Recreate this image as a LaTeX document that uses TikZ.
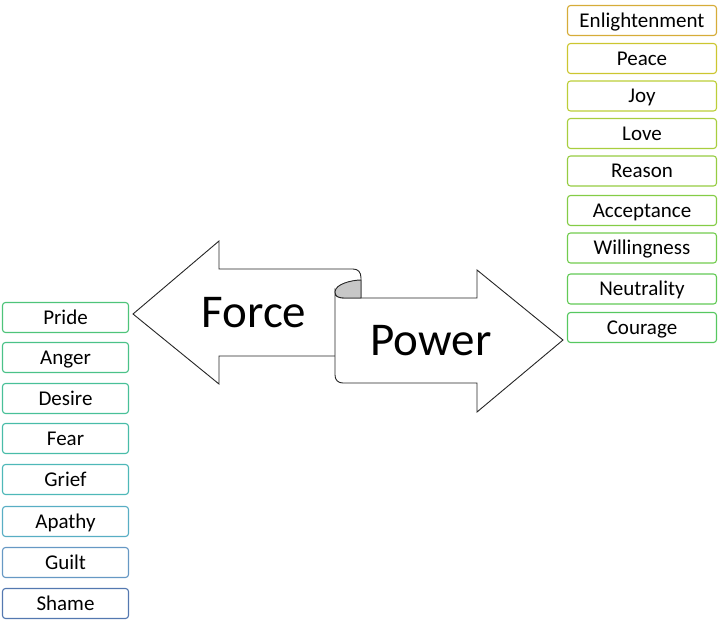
\documentclass[tikz,border=0pt]{standalone}
\usepackage{fontspec}
\setmainfont{Carlito}
\definecolor{cEnlightenment}{HTML}{D6AC38}
\definecolor{cPeace}{HTML}{CCC630}
\definecolor{cJoy}{HTML}{BCCE38}
\definecolor{cLove}{HTML}{A8CE3E}
\definecolor{cReason}{HTML}{96CC42}
\definecolor{cAcceptance}{HTML}{84CC46}
\definecolor{cWillingness}{HTML}{72CC4E}
\definecolor{cNeutrality}{HTML}{62CA56}
\definecolor{cCourage}{HTML}{56C860}
\definecolor{cPride}{HTML}{4EC47A}
\definecolor{cAnger}{HTML}{4AC288}
\definecolor{cDesire}{HTML}{48C098}
\definecolor{cFear}{HTML}{48BCA8}
\definecolor{cGrief}{HTML}{4EB8B8}
\definecolor{cApathy}{HTML}{58AEC4}
\definecolor{cGuilt}{HTML}{6698C4}
\definecolor{cShame}{HTML}{5478B0}
\begin{document}
\begin{tikzpicture}
[
    x=1pt, y=-1pt,
    level box/.style={draw, rounded corners=3pt, line width=1.1pt, fill=white,
        inner sep=0pt, text height=13.5pt, text depth=0pt, minimum height=30pt,
        font=\fontsize{21}{25}\selectfont},
    power box/.style={level box, minimum width=149pt},
    force box/.style={level box, minimum width=126pt},
    scroll/.style={draw=black!85, line width=0.9pt, line join=miter, fill=white},
    word/.style={anchor=base, font=\fontsize{47}{56}\selectfont},
]
\useasboundingbox (0,0) rectangle (720,629);

% force arrow, pointing left
\draw[scroll] (361,298) -- (361,278) .. controls (361,272) and (358,269) .. (353,269)
    -- (219,269) -- (219,241) -- (133,314) -- (219,384) -- (219,356) -- (335,356);
% power arrow, pointing right
\draw[scroll] (335,292) -- (335,375) .. controls (335,380) and (338,383) .. (343,383)
    -- (477,383) -- (477,412) -- (563,340) -- (477,270) -- (477,298) -- (344,298)
    .. controls (338,298) and (335,296) .. (335,292) -- cycle;
% the fold
\draw[scroll, fill=black!22] (335,292) .. controls (335,284) and (352,280) .. (361,280)
    -- (361,298) -- (344,298) .. controls (338,298) and (335,296) .. (335,292) -- cycle;
\node[word] (force) at (254,327) {Force};
\node[word] (power) at (431,355) {Power};

% levels of power
\node[power box, draw=cEnlightenment] (enlightenment) at (642,20.5) {Enlightenment};
\node[power box, draw=cPeace] (peace) at (642,58.5) {Peace};
\node[power box, draw=cJoy] (joy) at (642,96) {Joy};
\node[power box, draw=cLove] (love) at (642,133.5) {Love};
\node[power box, draw=cReason] (reason) at (642,171) {Reason};
\node[power box, draw=cAcceptance] (acceptance) at (642,210.5) {Acceptance};
\node[power box, draw=cWillingness] (willingness) at (642,248) {Willingness};
\node[power box, draw=cNeutrality] (neutrality) at (642,289) {Neutrality};
\node[power box, draw=cCourage] (courage) at (642,327.5) {Courage};

% levels of force
\node[force box, draw=cPride] (pride) at (65.5,317.5) {Pride};
\node[force box, draw=cAnger] (anger) at (65.5,357.5) {Anger};
\node[force box, draw=cDesire] (desire) at (65.5,398.5) {Desire};
\node[force box, draw=cFear] (fear) at (65.5,438.5) {Fear};
\node[force box, draw=cGrief] (grief) at (65.5,479.5) {Grief};
\node[force box, draw=cApathy] (apathy) at (65.5,521.5) {Apathy};
\node[force box, draw=cGuilt] (guilt) at (65.5,562.5) {Guilt};
\node[force box, draw=cShame] (shame) at (65.5,603.5) {Shame};
\end{tikzpicture}
\end{document}
